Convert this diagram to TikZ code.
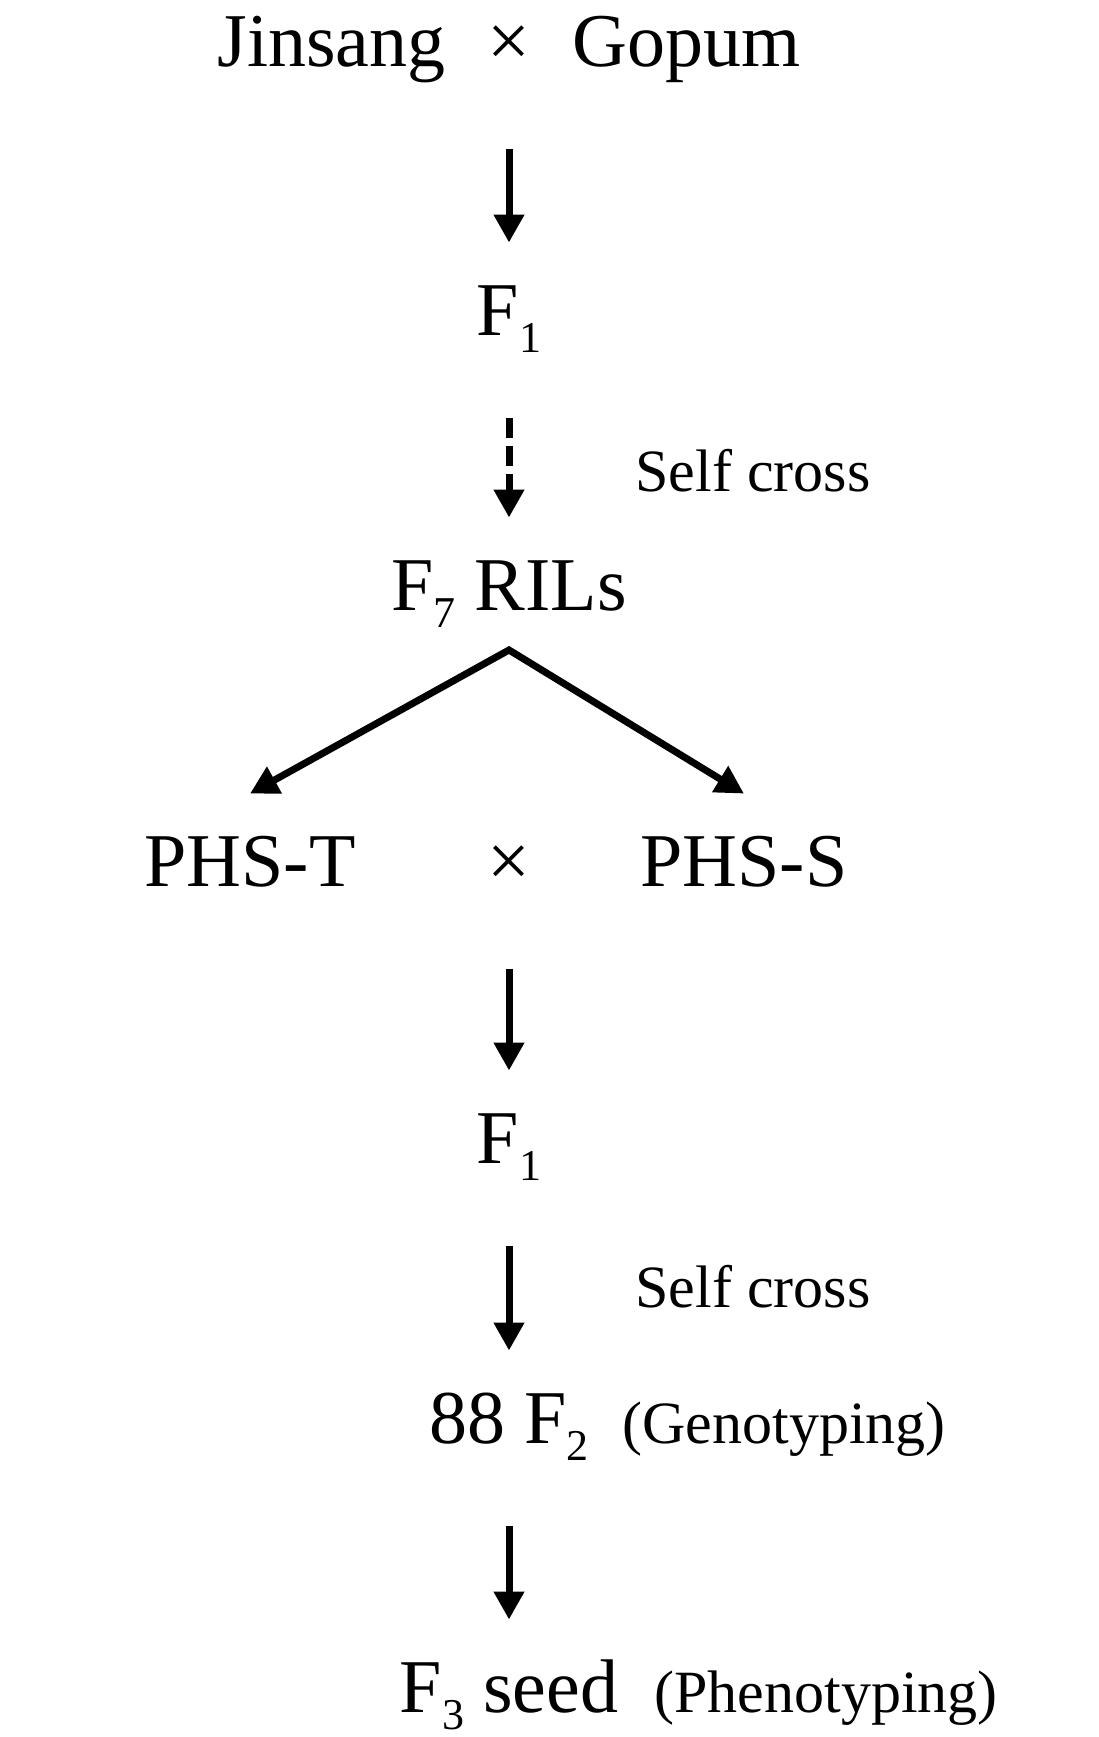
\documentclass[tikz,border=0pt]{standalone}
\usepackage{fontspec}
\setmainfont{Liberation Serif}
\usetikzlibrary{arrows.meta,positioning}
\newcommand{\gsub}[1]{\raisebox{-8.5pt}{\fontsize{22}{24}\selectfont #1}}

\begin{document}
\begin{tikzpicture}[x=0.5pt, y=-0.5pt,
  every node/.style={inner sep=0pt, anchor=base},
  >={Triangle[length=14pt, width=14.5pt]},
  stage/.style={font=\fontsize{38}{44}\selectfont, text height=46pt, text depth=41.5pt},
  note/.style={font=\fontsize{30}{36}\selectfont, anchor=base west},
  flow/.style={->, line width=3.5pt}]
\useasboundingbox (0,0) rectangle (1099,1737);
\foreach \name/\label/\x/\y in {par/{Jinsang\hspace{21pt}×\hspace{21pt}Gopum}/509/66,fa/{F\gsub{1}}/509/335,ril/{F\gsub{7} RILs}/509/610,phst/{PHS-T}/250/886,cross/{×}/509/886,phss/{PHS-S}/744/886,fb/{F\gsub{1}}/509/1163,ftwo/{88 F\gsub{2}}/509/1443,fthree/{F\gsub{3} seed}/509/1712}{
  \node[stage] (\name) at (\x,\y) {\label};
}
\node[note] (selfa) at (635,491) {Self cross};
\node[note] (selfb) at (635,1307) {Self cross};
\node[note] (geno) at (622,1443) {(Genotyping)};
\node[note] (pheno) at (654,1712) {(Phenotyping)};
\coordinate (split) at (509,650);
\draw[flow] (par) -- (fa);
\draw[flow, dash pattern=on 10pt off 4pt] (fa) -- (ril);
\draw[flow, <->] (phst.north) -- (split) -- (phss.north);
\draw[flow] (cross) -- (fb);
\draw[flow] (fb) -- (ftwo);
\draw[flow] (ftwo) -- (fthree);
\end{tikzpicture}
\end{document}
